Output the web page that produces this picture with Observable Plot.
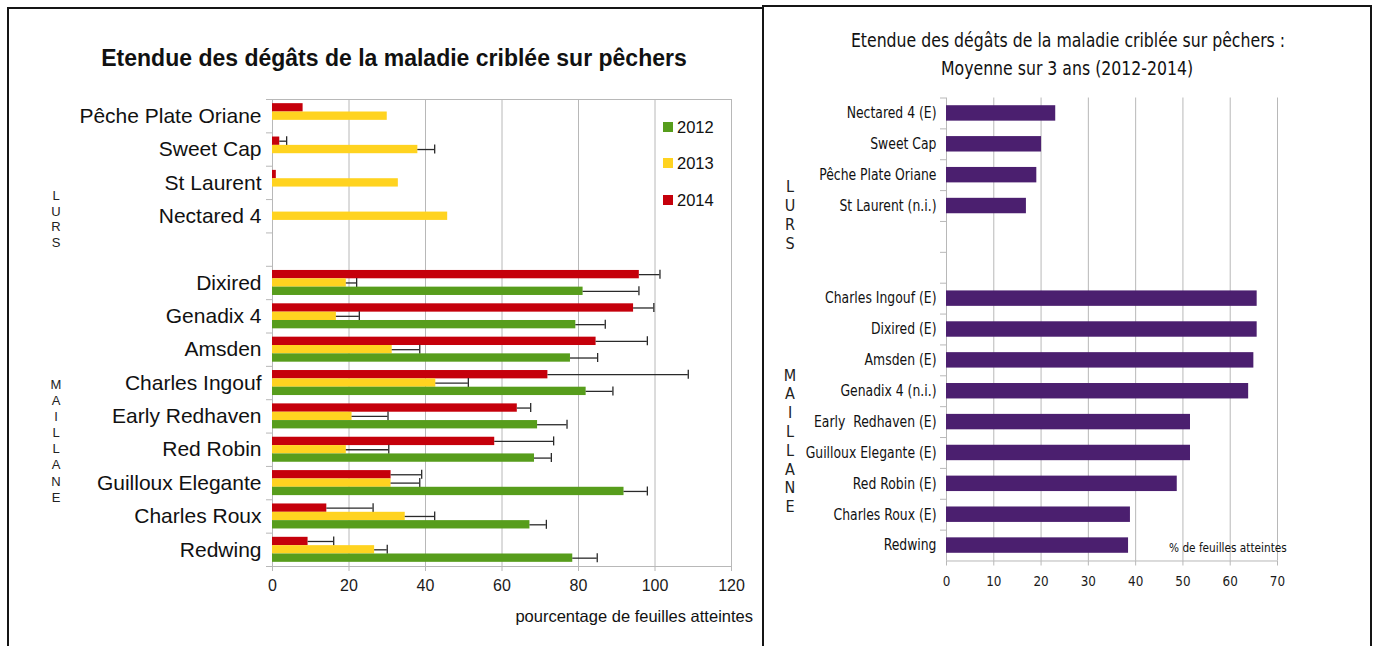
<!DOCTYPE html>
<html><head><meta charset="utf-8">
<script src="https://cdn.jsdelivr.net/npm/d3@7"></script>
<script src="https://cdn.jsdelivr.net/npm/@observablehq/plot@0.6"></script>
<style>
html,body{margin:0;padding:0;background:#fff;}
#page{position:relative;width:1378px;height:646px;overflow:hidden;background:#fff;font-family:"Liberation Sans",Arial,sans-serif;color:#111;}
.abs{position:absolute;white-space:nowrap;}
.narrow{font-family:"Liberation Sans Narrow","Arial Narrow","DejaVu Sans Condensed",sans-serif;}
.sq{display:inline-block;transform:scaleX(0.92);}
.bline{position:absolute;background:#151515;}
.stack div{text-align:center;}
</style></head><body><div id="page"></div>
<script>
// ---------- Data: left chart (per year, % of leaves affected, with error) ----------
const varieties = ["Pêche Plate Oriane","Sweet Cap","St Laurent","Nectared 4","Dixired","Genadix 4","Amsden","Charles Ingouf","Early Redhaven","Red Robin","Guilloux Elegante","Charles Roux","Redwing"];
const leftCategories = ["Pêche Plate Oriane","Sweet Cap","St Laurent","Nectared 4"," ","Dixired","Genadix 4","Amsden","Charles Ingouf","Early Redhaven","Red Robin","Guilloux Elegante","Charles Roux","Redwing"];
const years = ["2012","2013","2014"];
const values2012 = [null,null,null,null,81.2,79.3,77.9,82.0,69.3,68.5,91.9,67.3,78.5];
const err2012    = [null,null,null,null,14.6,7.7,7.1,7.0,7.7,4.4,6.1,4.3,6.4];
const values2013 = [30.0,38.0,32.9,45.8,19.3,16.7,31.3,42.7,20.8,19.3,31.0,34.7,26.7];
const err2013    = [null,4.4,null,null,2.7,6.0,7.2,8.5,9.4,11.1,7.5,7.7,3.3];
const values2014 = [8.0,1.9,1.0,null,95.9,94.4,84.6,72.0,64.0,58.1,31.0,14.2,9.3];
const err2014    = [null,1.8,null,null,5.4,5.3,13.4,36.7,3.5,15.4,8.0,12.1,6.7];
const leftTicks = [0,20,40,60,80,100,120];

// ---------- Data: right chart (3-year mean) ----------
const meanCategories = ["Nectared 4 (E)","Sweet Cap","Pêche Plate Oriane","St Laurent (n.i.)"," ","  ","Charles Ingouf (E)","Dixired (E)","Amsden (E)","Genadix 4 (n.i.)","Early  Redhaven (E)","Guilloux Elegante (E)","Red Robin (E)","Charles Roux (E)","Redwing"];
const meanVarieties = ["Nectared 4 (E)","Sweet Cap","Pêche Plate Oriane","St Laurent (n.i.)","Charles Ingouf (E)","Dixired (E)","Amsden (E)","Genadix 4 (n.i.)","Early  Redhaven (E)","Guilloux Elegante (E)","Red Robin (E)","Charles Roux (E)","Redwing"];
const meanValues = [23.1,20.1,19.1,16.9,65.7,65.7,65.0,63.9,51.6,51.6,48.8,38.9,38.5];
const rightTicks = [0,10,20,30,40,50,60,70];

const yearColors = {"2012":"#579d1c","2013":"#ffd320","2014":"#c5000b"};
const yearSlot = {"2014":0,"2013":1,"2012":2};

const page = document.getElementById("page");
function add(html){ page.insertAdjacentHTML("beforeend", html); }

// ---------- Left chart ----------
const W1=762,H1=646,mL1=272,mR1=31,mT1=99,mB1=80;
const PW1=W1-mL1-mR1;
const STEP1=(H1-mT1-mB1)/leftCategories.length;
const series = {"2012":[values2012,err2012],"2013":[values2013,err2013],"2014":[values2014,err2014]};
const rows = [];
for (const yr of years) {
  const [vals, errs] = series[yr];
  varieties.forEach((v,i)=>{ if (vals[i]!=null) rows.push({variety:v, year:yr, value:vals[i], err:errs[i]}); });
}
const GRAY="#b8b8b8";
const leftMarks = [
  Plot.gridX({ticks:leftTicks, stroke:GRAY, strokeOpacity:1}),
  Plot.frame({stroke:GRAY}),
  Plot.tickY(leftCategories, {y:d=>d, dy:-STEP1/2, insetLeft:-6, insetRight:PW1, stroke:GRAY}),
  Plot.tickY([leftCategories[leftCategories.length-1]], {y:d=>d, dy:STEP1/2, insetLeft:-6, insetRight:PW1, stroke:GRAY})
];
for (const yr of ["2014","2013","2012"]) {
  const s = yearSlot[yr];
  const top = STEP1/8 + s*STEP1/4;
  const center = top + STEP1/8;
  const data = rows.filter(d=>d.year===yr);
  const ed = data.filter(d=>d.err!=null);
  leftMarks.push(
    Plot.barX(data, {x:"value", y:"variety", fill:yearColors[yr], insetTop:top, insetBottom:STEP1-top-STEP1/4}),
    Plot.ruleY(ed, {y:"variety", x1:"value", x2:d=>d.value+d.err, dy:center-STEP1/2, stroke:"#2a2a2a", strokeWidth:1.3}),
    Plot.tickX(ed, {x:d=>d.value+d.err, y:"variety", insetTop:center-4.5, insetBottom:STEP1-center-4.5, stroke:"#2a2a2a", strokeWidth:1.3})
  );
}
leftMarks.push(
  Plot.axisX({ticks:leftTicks, tickSize:5, tickPadding:8, fontSize:16, stroke:GRAY, fill:"#1a1a1a", label:null}),
  Plot.axisY({tickSize:0, tickPadding:11, fontSize:21, fill:"#111", label:null})
);
const left = Plot.plot({
  width:W1, height:H1, marginLeft:mL1, marginRight:mR1, marginTop:mT1, marginBottom:mB1,
  x:{domain:[0,120]},
  y:{type:"band", domain:leftCategories, paddingInner:0, paddingOuter:0, round:false},
  style:{fontFamily:'"Liberation Sans", Arial, sans-serif', background:"none", overflow:"visible"},
  marks:leftMarks
});
left.style.position="absolute"; left.style.left="0px"; left.style.top="0px";
page.appendChild(left);

// ---------- Right chart ----------
const W2=616,H2=646,mL2=184,mR2=101,mT2=97.5,mB2=85.5;
const PW2=W2-mL2-mR2;
const STEP2=(H2-mT2-mB2)/meanCategories.length;
const meanRows = meanVarieties.map((v,i)=>({variety:v, value:meanValues[i]}));
const NARROW='"Liberation Sans Narrow","Arial Narrow","DejaVu Sans Condensed",sans-serif';
const right = Plot.plot({
  width:W2, height:H2, marginLeft:mL2, marginRight:mR2, marginTop:mT2, marginBottom:mB2,
  x:{domain:[0,70]},
  y:{type:"band", domain:meanCategories, paddingInner:0.5, paddingOuter:0.25, round:false},
  style:{fontFamily:NARROW, background:"none", overflow:"visible"},
  marks:[
    Plot.gridX({ticks:rightTicks, stroke:GRAY, strokeOpacity:1}),
    Plot.ruleY([meanCategories[meanCategories.length-1]], {y:d=>d, x1:0, x2:70, dy:STEP2/2, stroke:GRAY}),
    Plot.tickY(meanCategories, {y:d=>d, dy:-STEP2/2, insetLeft:-6, insetRight:PW2, stroke:GRAY}),
    Plot.barX(meanRows, {x:"value", y:"variety", fill:"#4b1f6f"}),
    Plot.axisX({ticks:rightTicks, tickSize:5, tickPadding:10, fontSize:14.5, stroke:GRAY, fill:"#1a1a1a", label:null}),
    Plot.axisY({tickSize:0, tickPadding:10, fontSize:15, fill:"#111", label:null})
  ]
});
right.style.position="absolute"; right.style.left="762px"; right.style.top="0px";
// condense the right chart's texts horizontally, around their anchor points
right.querySelectorAll("text").forEach(el=>{
  const t = el.getAttribute("transform")||"";
  const x = el.getAttribute("x");
  if (x!=null && !isNaN(+x)) el.removeAttribute("x");
  el.setAttribute("transform", `${t} translate(${x!=null && !isNaN(+x) ? +x : 0},0) scale(0.92,1)`);
});
page.appendChild(right);

// ---------- Texts ----------
add(`<div class="abs" style="left:0;width:788px;top:44px;line-height:28px;text-align:center;font-weight:bold;font-size:23px;">Etendue des dégâts de la maladie criblée sur pêchers</div>`);
const legendY = {"2012":127,"2013":163,"2014":200};
for (const yr of years) {
  add(`<div class="abs" style="left:663px;top:${legendY[yr]-5}px;width:10px;height:10px;background:${yearColors[yr]}"></div>`);
  add(`<div class="abs" style="left:677px;top:${legendY[yr]-10}px;line-height:20px;font-size:16.5px;">${yr}</div>`);
}
function stack(letters, x, top, lh, fs, cls){
  add(`<div class="abs stack ${cls}" style="left:${x-10}px;width:20px;top:${top}px;line-height:${lh}px;font-size:${fs}px;color:#222;">${letters.split("").map(c=>`<div>${c}</div>`).join("")}</div>`);
}
stack("LURS", 56, 188.3, 15.5, 13, "");
stack("MAILLANE", 56, 377, 16.1, 13, "");
stack("LURS", 790, 177.8, 18.9, 16, "narrow");
stack("MAILLANE", 790, 366.6, 18.8, 16, "narrow");
add(`<div class="abs" style="right:${1378-753}px;top:605px;line-height:22px;font-size:16.5px;">pourcentage de feuilles atteintes</div>`);
add(`<div class="abs narrow" style="left:762px;width:611px;top:26px;line-height:28px;text-align:center;font-size:19px;"><span class="sq" style="transform-origin:center">Etendue des dégâts de la maladie criblée sur pêchers :</span><br><span class="sq" style="transform-origin:center">Moyenne sur 3 ans (2012-2014)</span></div>`);
add(`<div class="abs narrow" style="right:${1378-1287}px;top:540px;line-height:16px;font-size:13px;"><span class="sq" style="transform-origin:right;transform:scaleX(0.9)">% de feuilles atteintes</span></div>`);

// ---------- Panel borders ----------
add(`<div class="bline" style="left:7px;top:7px;width:757px;height:2px"></div>`);
add(`<div class="bline" style="left:7px;top:7px;width:2px;height:640px"></div>`);
add(`<div class="bline" style="left:762px;top:5px;width:610px;height:2px"></div>`);
add(`<div class="bline" style="left:762px;top:5px;width:2px;height:641px"></div>`);
add(`<div class="bline" style="left:1370px;top:5px;width:2px;height:641px"></div>`);
</script></body></html>
